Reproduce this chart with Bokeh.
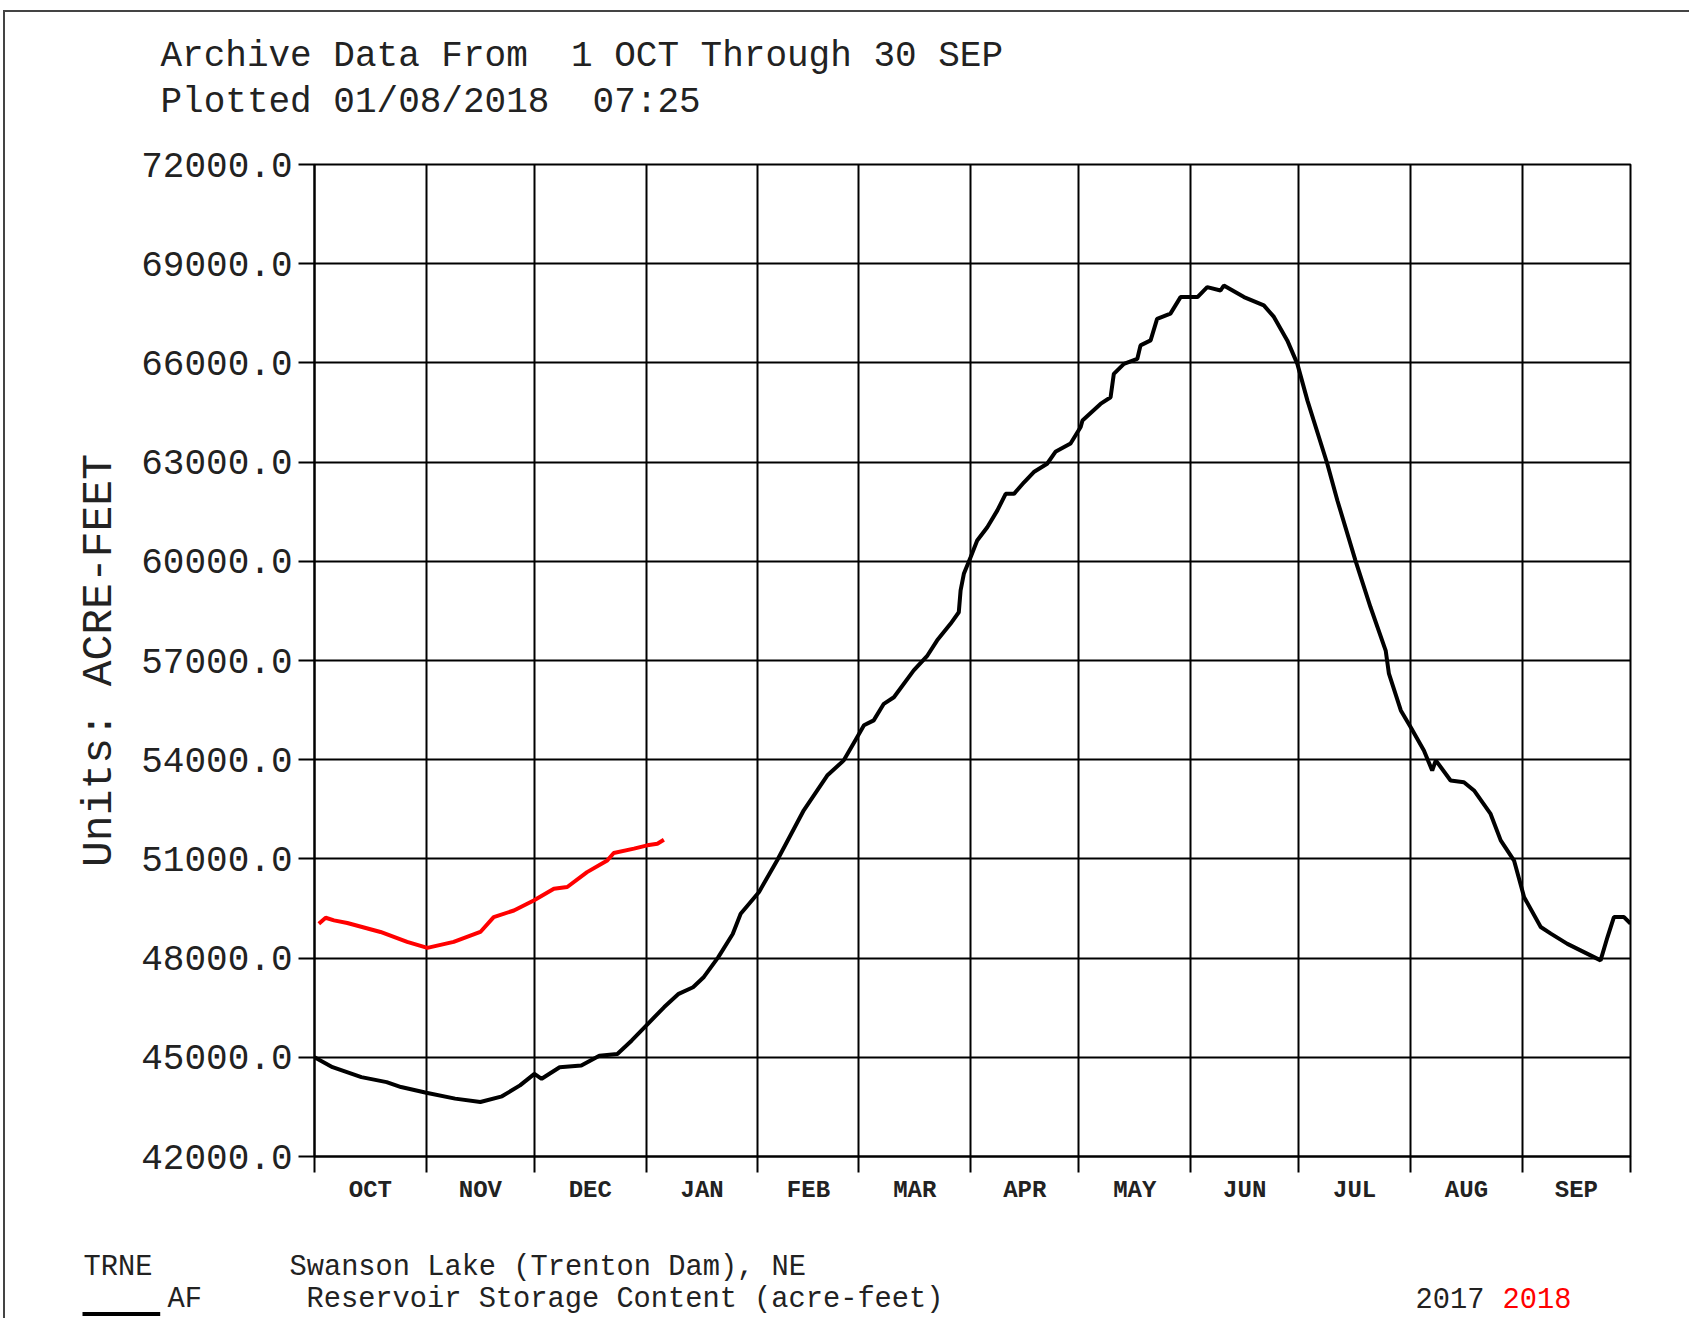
from bokeh.plotting import figure
from bokeh.models import Range1d, FixedTicker, Label
from bokeh.embed import file_html
from bokeh.resources import INLINE

# ---------------- data ----------------
month_names = ["OCT", "NOV", "DEC", "JAN", "FEB", "MAR", "APR", "MAY", "JUN", "JUL", "AUG", "SEP"]
month_days = [31, 30, 31, 31, 28, 31, 30, 31, 30, 31, 31, 30]
y_ticks = [42000, 45000, 48000, 51000, 54000, 57000, 60000, 63000, 66000, 69000, 72000]

# 2017 water year (days since 1 Oct), storage in acre-feet
wy2017_day = [0, 5, 13, 20, 24, 31, 39, 46, 52, 57, 61, 63, 68, 74, 79, 84, 88, 92, 97, 101,
              105, 108, 112, 116, 118.2, 123.3, 128.3, 135.7, 142.2, 146.8, 150.5, 152.4, 155.1,
              157.9, 160.7, 166.2, 170, 172.7, 176.4, 178.7, 179.2, 180.1, 182, 183.8, 186.6,
              189.4, 191.7, 194, 196.8, 199.5, 203.2, 205.5, 209.7, 212.5, 213, 218, 220.8,
              221.7, 224.5, 228.2, 229.1, 231.9, 233.7, 237.4, 240.2, 244.9, 247.6, 251.3,
              252.2, 257.8, 263.3, 266.1, 269.8, 272.6, 275.4, 280.9, 283.7, 288.7, 292.9,
              297.1, 298, 301.3, 304, 307.7, 310, 311, 315.1, 318.8, 321.6, 326.2, 329, 332.7,
              335.5, 340.1, 342.9, 347.5, 356.7, 358.6, 360.4, 363.2, 365]
wy2017_af = [45000, 44700, 44400, 44250, 44100, 43930, 43750, 43650, 43820, 44150, 44500, 44350,
             44700, 44750, 45050, 45100, 45510, 45960, 46520, 46920, 47120, 47430, 48030, 48730,
             49340, 50000, 50950, 52470, 53520, 53980, 54680, 55040, 55190, 55690, 55890, 56700,
             57150, 57610, 58110, 58460, 59120, 59620, 60130, 60630, 61030, 61540, 62040, 62040,
             62390, 62700, 62950, 63310, 63560, 64060, 64260, 64760, 64960, 65670, 65970, 66120,
             66530, 66680, 67330, 67490, 67990, 67990, 68290, 68190, 68340, 67990, 67740, 67390,
             66680, 65970, 64860, 62950, 61840, 60030, 58610, 57300, 56600, 55490, 54990, 54280,
             53670, 53980, 53370, 53320, 53070, 52360, 51560, 50950, 49840, 48940, 48740, 48430,
             47930, 48630, 49240, 49240, 49040]

# 2018 water year (to date)
wy2018_day = [1.2, 3.1, 5.4, 9.1, 18.3, 25.7, 31.3, 38.6, 46, 49.7, 55.3, 60.8, 66.4, 70.1,
              75.6, 81.2, 83, 88.6, 92.3, 95.1, 96.9]
wy2018_af = [49040, 49220, 49140, 49060, 48790, 48490, 48310, 48490, 48790, 49240, 49440, 49740,
             50100, 50150, 50600, 50950, 51180, 51310, 51410, 51460, 51580]

NB = "\u00a0"  # keeps the doubled spaces of the original from collapsing
title_lines = ["Archive Data From" + NB + " 1 OCT Through 30 SEP", "Plotted 01/08/2018" + NB + " 07:25"]
y_label = "Units: ACRE-FEET"
station = "TRNE"
station_name = "Swanson Lake (Trenton Dam), NE"
param = "AF"
param_name = "Reservoir Storage Content (acre-feet)"
years = ["2017", "2018"]

# ---------------- derived ----------------
bounds = [0]
for d in month_days:
    bounds.append(bounds[-1] + d)
mids = [(bounds[i] + bounds[i + 1]) / 2 for i in range(12)]

FONT = "Liberation Mono"
TXT = "#222222"
RED = "#ff0000"

# page geometry
OX, OY = 5, 12            # canvas origin on the page (margin + border)
FL, FT, FR, FB = 314, 164, 1630, 1156   # frame edges on the page
W, H = 1686, 1308

p = figure(width=W, height=H, output_backend="svg", toolbar_location=None,
           x_range=Range1d(0, bounds[-1]), y_range=Range1d(42000, 72000),
           min_border_left=FL - OX, min_border_right=OX + W - FR,
           min_border_top=FT - OY, min_border_bottom=OY + H - FB,
           title=None)
p.styles = {"margin-left": "3px", "margin-top": "10px",
            "border-top": "2px solid #444444", "border-left": "2px solid #444444"}
p.background_fill_color = "white"
p.border_fill_color = "white"
p.outline_line_color = "black"
p.outline_line_width = 2

# x axis: month labels at mid-month, tick marks at month boundaries
xa = p.xaxis[0]
xa.ticker = FixedTicker(ticks=mids, minor_ticks=bounds)
xa.major_label_overrides = {m: n for m, n in zip(mids, month_names)}
xa.major_tick_line_color = None
xa.major_tick_out = 16
xa.major_tick_in = 0
xa.minor_tick_out = 16
xa.minor_tick_in = 0
xa.minor_tick_line_color = "black"
xa.minor_tick_line_width = 2
xa.axis_line_color = "black"
xa.axis_line_width = 2
xa.major_label_text_font = FONT
xa.major_label_text_font_style = "bold"
xa.major_label_text_font_size = "24px"
xa.major_label_text_color = TXT
xa.major_label_standoff = 4

ya = p.yaxis[0]
ya.ticker = FixedTicker(ticks=y_ticks)
ya.major_label_overrides = {v: f"{v}.0" for v in y_ticks}
ya.major_tick_out = 16
ya.major_tick_in = 0
ya.major_tick_line_width = 2
ya.major_tick_line_color = "black"
ya.minor_tick_line_color = None
ya.axis_line_color = "black"
ya.axis_line_width = 2
ya.major_label_text_font = FONT
ya.major_label_text_font_size = "36px"
ya.major_label_text_color = TXT
ya.major_label_standoff = 6
ya.axis_label = y_label
ya.axis_label_text_font = FONT
ya.axis_label_text_font_size = "43px"
ya.axis_label_text_font_style = "normal"
ya.axis_label_text_color = TXT
ya.axis_label_standoff = 14

p.xgrid.ticker = FixedTicker(ticks=bounds)
p.xgrid.grid_line_color = "black"
p.xgrid.grid_line_width = 2
p.ygrid.ticker = FixedTicker(ticks=y_ticks)
p.ygrid.grid_line_color = "black"
p.ygrid.grid_line_width = 2

p.line(wy2017_day, wy2017_af, line_color="black", line_width=4)
p.line(wy2018_day, wy2018_af, line_color=RED, line_width=4)


def dx(px):
    return (px - FL) * bounds[-1] / (FR - FL)


def dy(py):
    return 42000 + (FB - py) * 30000 / (FB - FT)


def lab(text, px, py, size, place, color=TXT, **kw):
    # labels live in side panels (not clipped); anchored at their vertical middle
    p.add_layout(Label(x=dx(px), y=dy(py), text=text, text_font=FONT, text_font_size=size,
                       text_color=color, text_baseline="middle", text_align="left", **kw), place)


# header
lab(title_lines[0], 160, 56, "36px", "above")
lab(title_lines[1], 160, 102, "36px", "above")
# footer, first row
lab(station, 83, 1267, "28.7px", "above")
lab(station_name, 289, 1267, "28.7px", "above")
# footer, second row
lab(param, 167, 1299, "28.7px", "right")
lab(param_name, 306, 1299, "28.7px", "below")
lab(years[0], 1415, 1297, "28.7px", "below")
lab(years[1], 1502, 1297, "28.7px", "below", color=RED)
# black line sample under the parameter key
lab(NB * 37, 82, 1313.5, "3.5px", "below", background_fill_color="black",
    background_fill_alpha=1.0, padding=0)

open("out.html", "w").write(file_html(p, INLINE))
